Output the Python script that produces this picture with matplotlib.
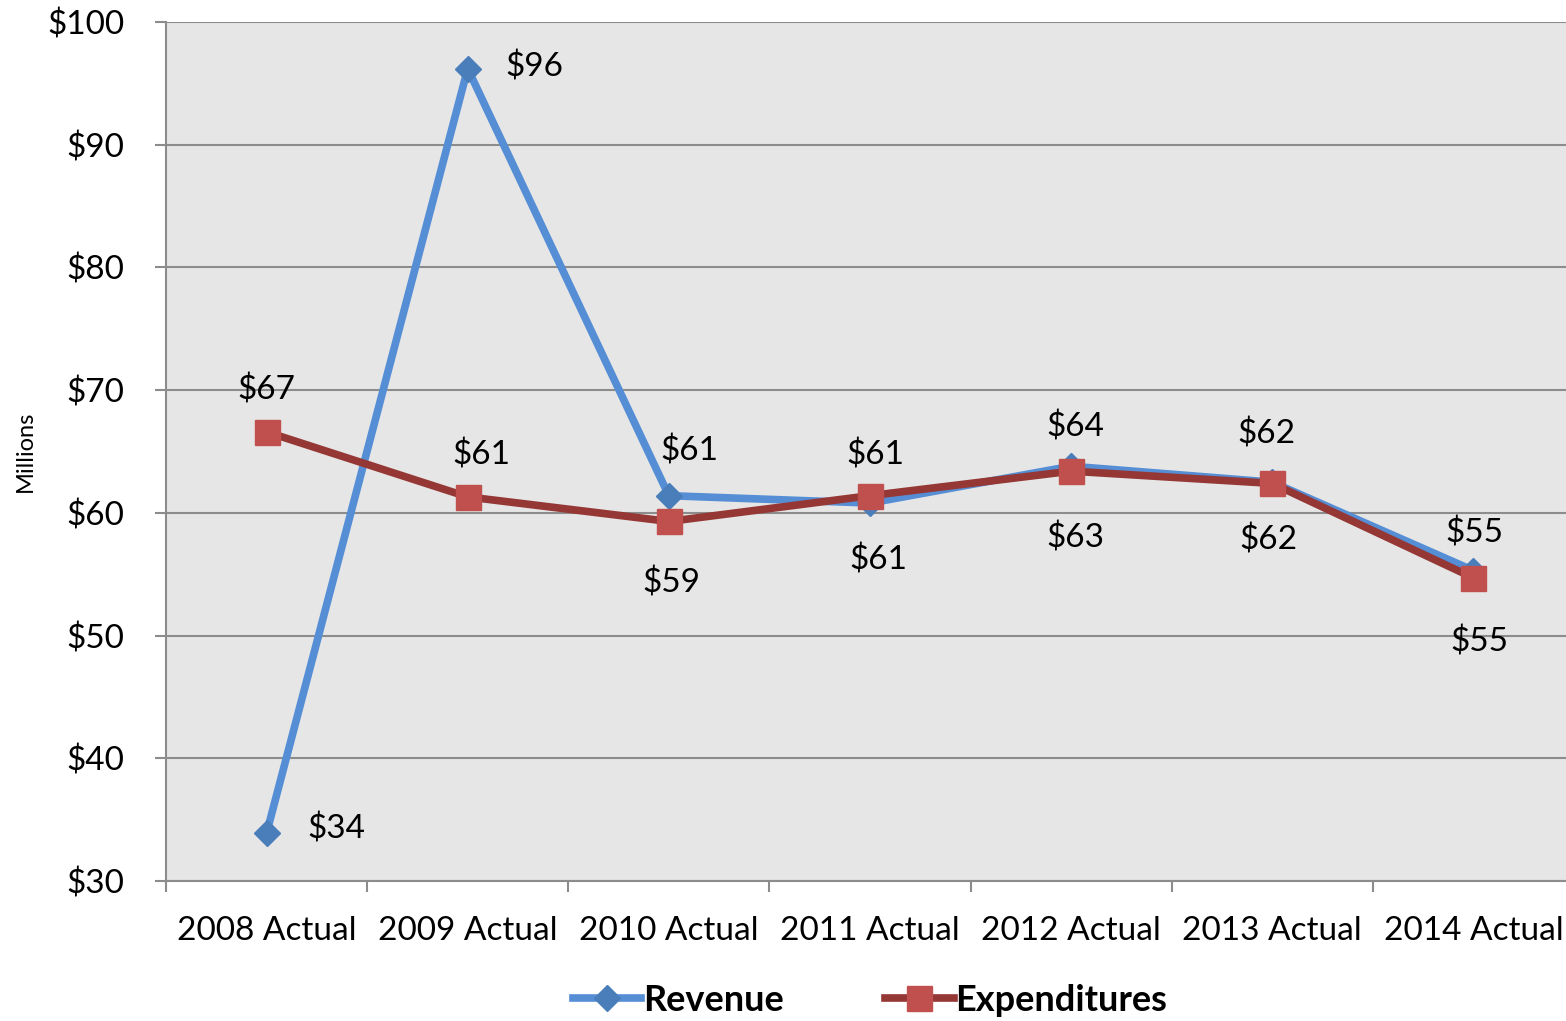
import matplotlib.pyplot as plt
import numpy as np

plt.rcParams["font.family"] = ["Lato", "DejaVu Sans"]

years = ["2008 Actual", "2009 Actual", "2010 Actual", "2011 Actual",
         "2012 Actual", "2013 Actual", "2014 Actual"]
revenue = [33.9, 96.2, 61.4, 60.8, 63.8, 62.5, 55.3]
expenditures = [66.6, 61.3, 59.3, 61.4, 63.4, 62.4, 54.7]
y_ticks = [30, 40, 50, 60, 70, 80, 90, 100]

# label offsets in points (dx, dy)
rev_offsets = [(50, 3), (48, 1), (15, 32), (6, -41), (3, 28), (-4, 35), (1, 27)]
exp_offsets = [(0, 30), (10, 30), (2, -44), (4, 29), (3, -48), (-3, -41), (4, -46)]

fig = plt.figure(figsize=(15.66, 10.21), dpi=100)
# plot area runs slightly past the right edge, as in the original
ax = fig.add_axes([166 / 1566, 140 / 1021, 1408 / 1566, (881 - 22) / 1021])
ax.set_facecolor("#E6E6E6")

x = np.arange(len(years))
ax.plot(x, revenue, color="#558ED5", lw=5.5, marker="D", ms=13,
        mfc="#4A7EBB", mec="#4A7EBB", label="Revenue", zorder=3)
ax.plot(x, expenditures, color="#953735", lw=5.5, marker="s", ms=18,
        mfc="#C0504D", mec="#C0504D", label="Expenditures", zorder=4)

for xi, v, off in zip(x, revenue, rev_offsets):
    ax.annotate(f"${v:.0f}", (xi, v), xytext=off, textcoords="offset points",
                ha="center", va="center", fontsize=24)
for xi, v, off in zip(x, expenditures, exp_offsets):
    ax.annotate(f"${v:.0f}", (xi, v), xytext=off, textcoords="offset points",
                ha="center", va="center", fontsize=24)

ax.set_xlim(-0.5, 6.5)
ax.set_ylim(30, 100)
ax.set_yticks(y_ticks, [f"${t}" for t in y_ticks], fontsize=24)
ax.set_xticks(x, years, fontsize=24)
ax.tick_params(axis="x", length=0, pad=25)
ax.set_xticks(np.arange(-0.5, 6.5, 1), minor=True)
ax.tick_params(axis="x", which="minor", length=8, width=1.5, color="#8C8C8C")
ax.tick_params(axis="y", length=8, width=1.5, color="#8C8C8C", pad=22)
ax.grid(axis="y", color="#8C8C8C", lw=1.5)
ax.set_axisbelow(True)
for s in ["top", "right"]:
    ax.spines[s].set_visible(False)
for s in ["left", "bottom"]:
    ax.spines[s].set_color("#8C8C8C")
    ax.spines[s].set_linewidth(1.5)

ax.set_ylabel("Millions", fontsize=17, labelpad=8)

ax.legend(loc="center", bbox_to_anchor=(870 / 1566, 21 / 1021), ncol=2,
          bbox_transform=fig.transFigure, frameon=False,
          prop={"size": 26, "weight": "bold"}, handlelength=1.9, handletextpad=0.05,
          columnspacing=2.8)

fig.savefig("out.png", dpi=100)
